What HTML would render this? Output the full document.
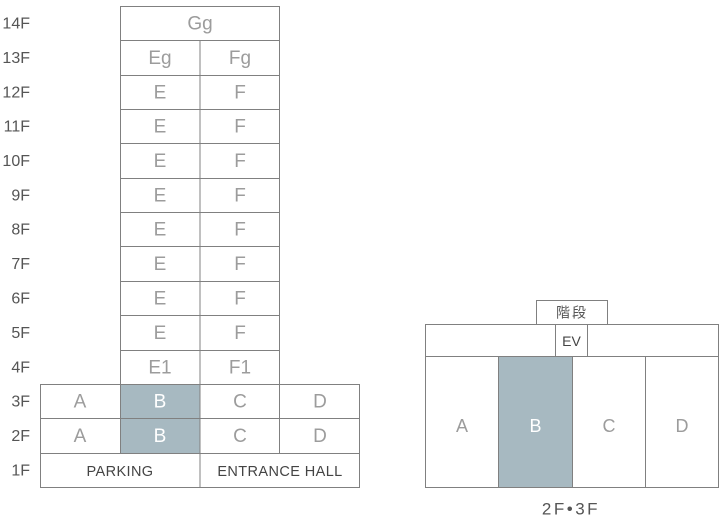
<!DOCTYPE html>
<html><head><meta charset="utf-8"><style>
html,body{margin:0;padding:0;background:#fff;}
svg{display:block;}
text{font-family:"Liberation Sans","Noto Sans CJK JP",sans-serif;}
</style></head><body>
<svg width="720" height="520" viewBox="0 0 720 520" xmlns="http://www.w3.org/2000/svg">
<!-- fills -->
<rect x="120.5" y="384.5" width="79" height="69" fill="#a7b9c1"/>
<rect x="498.5" y="356.5" width="74" height="131" fill="#a7b9c1"/>
<g fill="none" stroke="#808080" stroke-width="1">
<!-- tower -->
<rect x="120.5" y="6.5" width="159" height="378"/>
<line x1="200" y1="40.5" x2="200" y2="384.5"/>
<line x1="120.5" y1="40.5" x2="279.5" y2="40.5"/>
<line x1="120.5" y1="75.5" x2="279.5" y2="75.5"/>
<line x1="120.5" y1="109.5" x2="279.5" y2="109.5"/>
<line x1="120.5" y1="143.5" x2="279.5" y2="143.5"/>
<line x1="120.5" y1="178.5" x2="279.5" y2="178.5"/>
<line x1="120.5" y1="212.5" x2="279.5" y2="212.5"/>
<line x1="120.5" y1="246.5" x2="279.5" y2="246.5"/>
<line x1="120.5" y1="281.5" x2="279.5" y2="281.5"/>
<line x1="120.5" y1="315.5" x2="279.5" y2="315.5"/>
<line x1="120.5" y1="350.5" x2="279.5" y2="350.5"/>
<!-- base -->
<rect x="40.5" y="384.5" width="319" height="103"/>
<line x1="40.5" y1="418.5" x2="359.5" y2="418.5"/>
<line x1="40.5" y1="453.5" x2="359.5" y2="453.5"/>
<line x1="120.5" y1="384.5" x2="120.5" y2="453.5"/>
<line x1="200" y1="384.5" x2="200" y2="487.5"/>
<line x1="279.5" y1="384.5" x2="279.5" y2="453.5"/>
<!-- plan -->
<rect x="425.5" y="324.5" width="293" height="163"/>
<line x1="425.5" y1="356.5" x2="718.5" y2="356.5"/>
<line x1="498.5" y1="356.5" x2="498.5" y2="487.5"/>
<line x1="572.5" y1="356.5" x2="572.5" y2="487.5"/>
<line x1="645.5" y1="356.5" x2="645.5" y2="487.5"/>
<rect x="536.5" y="300.5" width="71" height="24"/>
<rect x="555.5" y="324.5" width="32" height="32"/>
</g>
<!-- floor labels -->
<g font-size="16" fill="#555" text-anchor="end" dominant-baseline="central">
<text x="30" y="24">14F</text>
<text x="30" y="58.5">13F</text>
<text x="30" y="93">12F</text>
<text x="30" y="127">11F</text>
<text x="30" y="161.5">10F</text>
<text x="30" y="196">9F</text>
<text x="30" y="230">8F</text>
<text x="30" y="264.5">7F</text>
<text x="30" y="299">6F</text>
<text x="30" y="333.5">5F</text>
<text x="30" y="368">4F</text>
<text x="30" y="402">3F</text>
<text x="30" y="436.5">2F</text>
<text x="30" y="471">1F</text>
</g>
<!-- tower cells -->
<g font-size="19" fill="#9c9c9c" text-anchor="middle" dominant-baseline="central">
<text x="200" y="24">Gg</text>
<text x="160" y="58.5">Eg</text><text x="240" y="58.5">Fg</text>
<text x="160" y="93">E</text><text x="240" y="93">F</text>
<text x="160" y="127">E</text><text x="240" y="127">F</text>
<text x="160" y="161.5">E</text><text x="240" y="161.5">F</text>
<text x="160" y="196">E</text><text x="240" y="196">F</text>
<text x="160" y="230">E</text><text x="240" y="230">F</text>
<text x="160" y="264.5">E</text><text x="240" y="264.5">F</text>
<text x="160" y="299">E</text><text x="240" y="299">F</text>
<text x="160" y="333.5">E</text><text x="240" y="333.5">F</text>
<text x="160" y="368">E1</text><text x="240" y="368">F1</text>
<text x="80" y="402">A</text><text x="240" y="402">C</text><text x="320" y="402">D</text>
<text x="80" y="436.5">A</text><text x="240" y="436.5">C</text><text x="320" y="436.5">D</text>
</g>
<g font-size="19" fill="#ffffff" text-anchor="middle" dominant-baseline="central">
<text x="160" y="402">B</text>
<text x="160" y="436.5">B</text>
</g>
<g font-size="14.5" fill="#444" text-anchor="middle" dominant-baseline="central" letter-spacing="0.4">
<text x="120" y="472">PARKING</text>
<text x="280" y="472">ENTRANCE HALL</text>
</g>
<!-- plan labels -->
<g font-size="18" fill="#9c9c9c" text-anchor="middle" dominant-baseline="central">
<text x="462" y="426">A</text>
<text x="609" y="426">C</text>
<text x="682" y="426">D</text>
</g>
<text x="535.5" y="426" font-size="18" fill="#fff" text-anchor="middle" dominant-baseline="central">B</text>
<text x="572" y="312.5" font-size="14" fill="#555" text-anchor="middle" dominant-baseline="central" letter-spacing="2">階段</text>
<text x="571.5" y="341" font-size="14" fill="#444" text-anchor="middle" dominant-baseline="central">EV</text>
<text x="571" y="509" font-size="17" fill="#555" text-anchor="middle" dominant-baseline="central" letter-spacing="2.5">2F•3F</text>
</svg>
</body></html>
